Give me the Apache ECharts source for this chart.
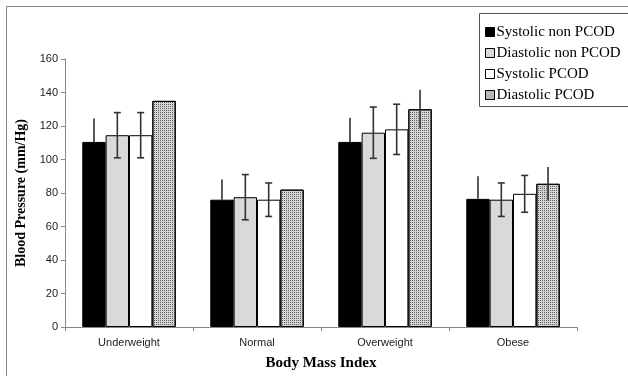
<!DOCTYPE html>
<html>
<head>
<meta charset="utf-8">
<script src="https://cdn.jsdelivr.net/npm/echarts@6/dist/echarts.min.js"></script>
<style>html,body{margin:0;padding:0;background:#fff}#c{width:628px;height:376px}</style>
</head>
<body>
<div id="c"></div>
<script>
const categories = ['Underweight', 'Normal', 'Overweight', 'Obese'];
const seriesNames = ['Systolic non PCOD', 'Diastolic non PCOD', 'Systolic PCOD', 'Diastolic PCOD'];
const systolicNonPCOD = [110.5, 76, 110.5, 76.5];
const diastolicNonPCOD = [114.5, 77.5, 116, 76];
const systolicPCOD = [114.5, 76, 118, 79.5];
const diastolicPCOD = [135, 82, 130, 85.5];
const errSystolicNonPCOD = [14, 12, 14.5, 13.5];
const errDiastolicNonPCOD = [13.5, 13.5, 15.3, 10];
const errSystolicPCOD = [13.5, 10, 15, 11];
const errDiastolicPCOD = [null, null, 11.7, 10];
const yTicks = [0, 20, 40, 60, 80, 100, 120, 140, 160];

const values = [systolicNonPCOD, diastolicNonPCOD, systolicPCOD, diastolicPCOD];
const errors = [errSystolicNonPCOD, errDiastolicNonPCOD, errSystolicPCOD, errDiastolicPCOD];
const colors = ['#000000', '#d9d9d9', '#ffffff', '#d4d4d4'];
const caps = [false, true, true, false];
const gapRatio = 0.27;

const chart = echarts.init(document.getElementById('c'));

const barSeries = values.map((v, i) => ({
  name: seriesNames[i],
  type: 'bar',
  data: v,
  barGap: '0%',
  barCategoryGap: '27%',
  itemStyle: Object.assign({ color: colors[i], borderColor: '#000', borderWidth: 1 },
    i === 3 ? { decal: { symbol: 'rect', symbolSize: 1, dashArrayX: [1, 1], dashArrayY: [1, 1], color: 'rgba(60,60,60,0.75)' } } : {}),
  emphasis: { disabled: true },
  z: 2
}));

const errSeries = values.map((v, i) => ({
  type: 'custom',
  name: 'err' + i,
  data: v.map((val, k) => [k, val, errors[i][k]]),
  z: 5,
  silent: true,
  renderItem: function (params, api) {
    const e = api.value(2);
    if (e === null || e === undefined || isNaN(e)) return null;
    const k = api.value(0), val = api.value(1);
    const band = api.size([1, 0])[0];
    const bw = band * (1 - gapRatio) / 4;
    const off = (i - 1.5) * bw;
    const top = api.coord([k, val + e]);
    const bot = i === 0 ? api.coord([k, val]) : api.coord([k, val - e]);
    const x = top[0] + off;
    const st = { stroke: '#333', lineWidth: 1.6 };
    const children = [{ type: 'line', shape: { x1: x, y1: top[1], x2: x, y2: bot[1] }, style: st }];
    if (caps[i]) {
      children.push({ type: 'line', shape: { x1: x - 3.5, y1: top[1], x2: x + 3.5, y2: top[1] }, style: st });
      children.push({ type: 'line', shape: { x1: x - 3.5, y1: bot[1], x2: x + 3.5, y2: bot[1] }, style: st });
    }
    return { type: 'group', children: children };
  }
}));

chart.setOption({
  animation: false,
  backgroundColor: '#fff',
  grid: { left: 65, right: 51, top: 59, bottom: 48, containLabel: false },
  legend: {
    data: seriesNames,
    orient: 'vertical',
    left: 480,
    top: 19,
    itemWidth: 9,
    itemHeight: 9,
    itemGap: 5,
    icon: 'rect',
    selectedMode: false,
    textStyle: { fontFamily: 'Liberation Serif', fontSize: 15, color: '#000', lineHeight: 16, padding: [0, 0, 0, -3] },
    itemStyle: { borderColor: '#000', borderWidth: 1 }
  },
  xAxis: {
    type: 'category',
    data: categories,
    name: 'Body Mass Index',
    nameLocation: 'middle',
    nameGap: 29,
    nameTextStyle: { fontFamily: 'Liberation Serif', fontWeight: 'bold', fontSize: 15, color: '#000' },
    axisLine: { lineStyle: { color: '#888', width: 1 } },
    axisTick: { show: true, length: 4, lineStyle: { color: '#888' } },
    axisLabel: { fontFamily: 'Liberation Sans', fontSize: 11, color: '#222', margin: 10 },
    splitLine: { show: false }
  },
  yAxis: {
    type: 'value',
    min: 0,
    max: 160,
    interval: 20,
    name: 'Blood Pressure (mm/Hg)',
    nameLocation: 'middle',
    nameGap: 34,
    nameTextStyle: { fontFamily: 'Liberation Serif', fontWeight: 'bold', fontSize: 14, color: '#000' },
    axisLine: { show: true, lineStyle: { color: '#888', width: 1 } },
    axisTick: { show: true, length: 4, lineStyle: { color: '#888' } },
    axisLabel: { fontFamily: 'Liberation Sans', fontSize: 11, color: '#222', margin: 7,
      formatter: function (v) { return yTicks.indexOf(v) >= 0 ? String(v) : ''; } },
    splitLine: { show: false }
  },
  graphic: [
    { type: 'line', shape: { x1: 6.5, y1: 6.5, x2: 628, y2: 6.5 }, style: { stroke: '#888', lineWidth: 1 } },
    { type: 'line', shape: { x1: 6.5, y1: 6.5, x2: 6.5, y2: 376 }, style: { stroke: '#888', lineWidth: 1 } },
    { type: 'rect', shape: { x: 479.5, y: 13.5, width: 160, height: 93 }, style: { fill: 'none', stroke: '#555', lineWidth: 1 }, z: 100 }
  ],
  series: barSeries.concat(errSeries)
});
</script>
</body>
</html>
